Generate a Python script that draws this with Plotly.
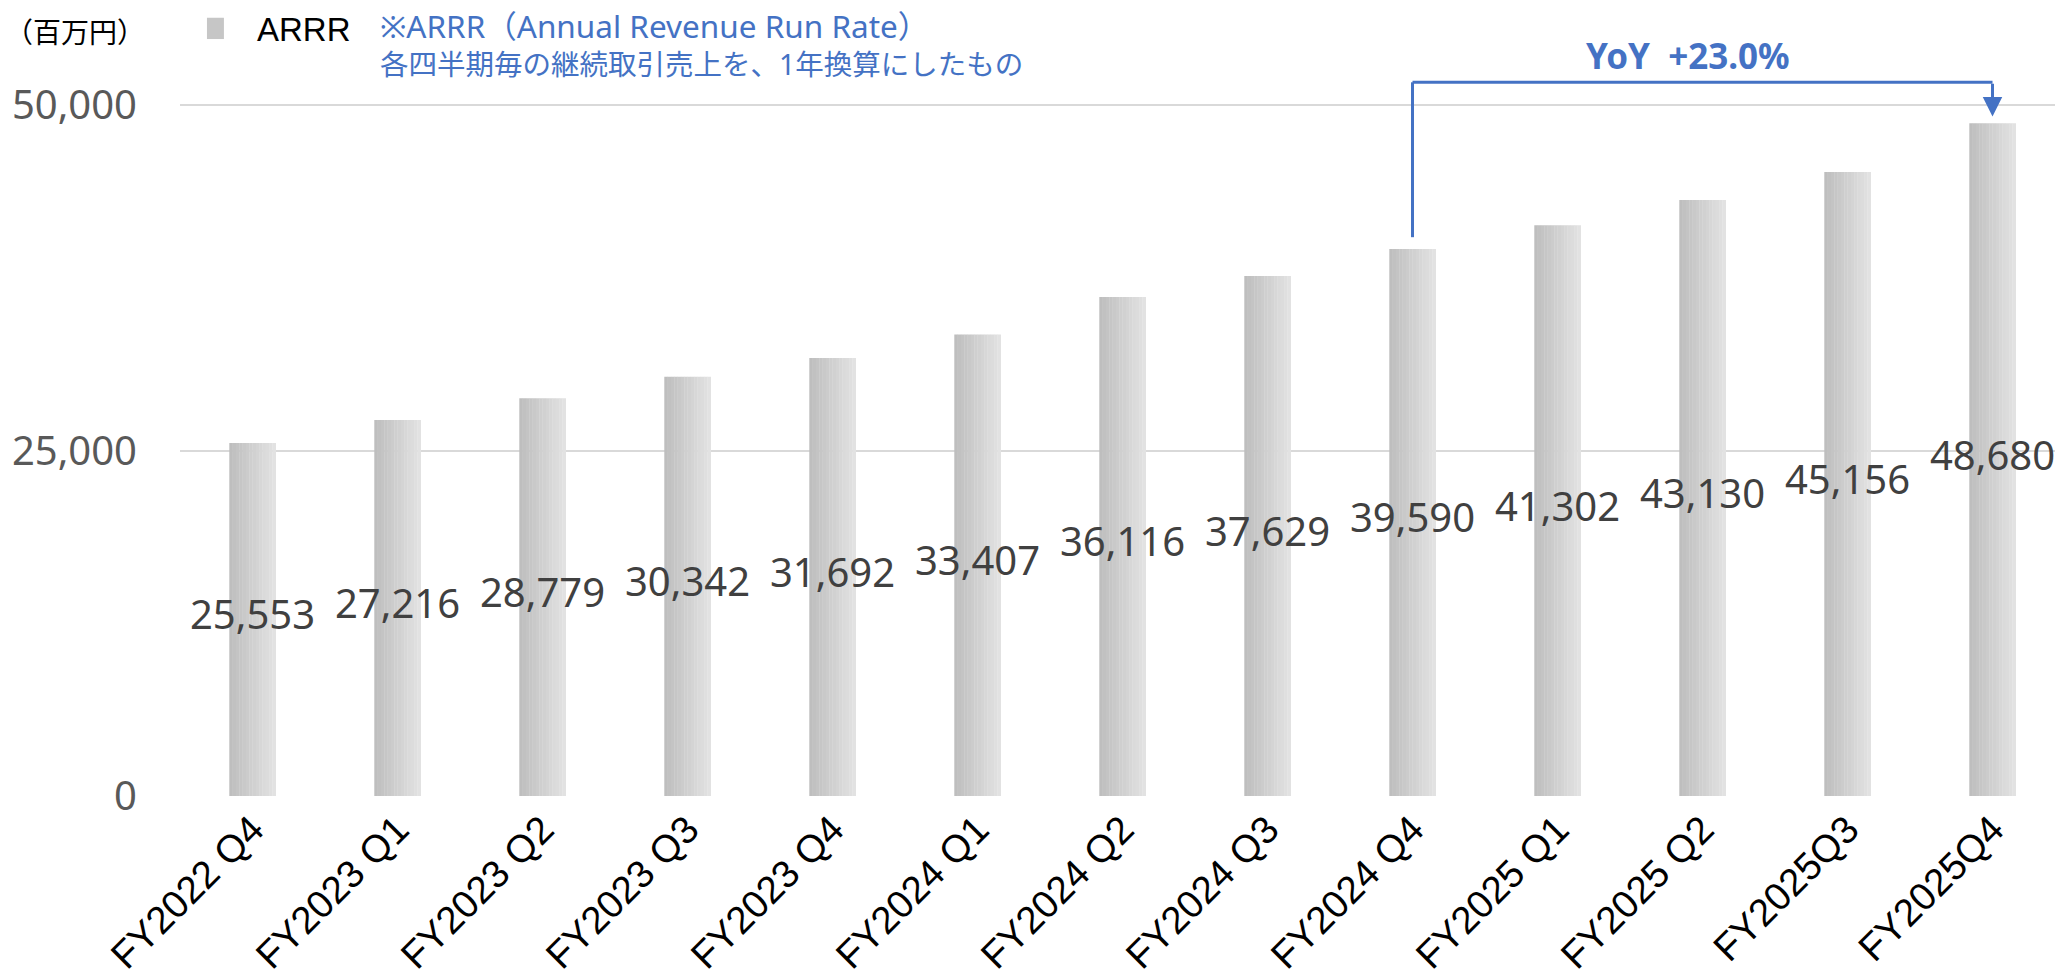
import plotly.graph_objects as go

# 四半期ラベルとARRR（百万円）
quarters = ["FY2022 Q4", "FY2023 Q1", "FY2023 Q2", "FY2023 Q3", "FY2023 Q4",
            "FY2024 Q1", "FY2024 Q2", "FY2024 Q3", "FY2024 Q4",
            "FY2025 Q1", "FY2025 Q2", "FY2025Q3", "FY2025Q4"]
arrr = [25553, 27216, 28779, 30342, 31692, 33407, 36116, 37629, 39590,
        41302, 43130, 45156, 48680]
y_ticks = [0, 25000, 50000]

BLUE = "#4472C4"
NUM_FONT = "Noto Sans"
JP_FONT = "Noto Sans CJK JP"

fig = go.Figure()

# 棒のグラデーション（左が濃く右が薄い）を細い棒の重ね合わせで表現
n_slices = 14
bar_w = 0.32
c0, c1 = (190, 190, 190), (226, 226, 226)
for i in range(n_slices):
    t = i / (n_slices - 1)
    col = tuple(round(a + (b - a) * t) for a, b in zip(c0, c1))
    fig.add_trace(go.Bar(
        x=quarters, y=arrr,
        width=bar_w / n_slices + 0.002,
        offset=-bar_w / 2 + i * bar_w / n_slices,
        marker=dict(color="rgb(%d,%d,%d)" % col, line_width=0),
        showlegend=False, hoverinfo="skip",
    ))

# データラベル（棒の中央の高さ）
fig.add_trace(go.Scatter(
    x=quarters, y=[v / 2 for v in arrr],
    mode="text", text=[f"{v:,}" for v in arrr],
    textfont=dict(family=NUM_FONT, size=40, color="#404040"),
    showlegend=False, hoverinfo="skip",
))

# YoY の括弧線と矢印
i0, i1 = 8, 12
yoy = arrr[i1] / arrr[i0] - 1
top = max(arrr) * 1.061
fig.add_shape(type="line", x0=i0, x1=i0, y0=arrr[i0] + 850, y1=top,
              xref="x", yref="y", line=dict(color=BLUE, width=3))
fig.add_shape(type="line", x0=i0, x1=i1, y0=top, y1=top,
              xref="x", yref="y", line=dict(color=BLUE, width=3))
fig.add_annotation(x=i1, y=arrr[i1] + 500, ax=i1, ay=top, xref="x", yref="y",
                   axref="x", ayref="y", text="", showarrow=True,
                   arrowhead=2, arrowsize=1.3, arrowwidth=3, arrowcolor=BLUE)
fig.add_annotation(x=(i0 + i1) / 2 - 0.1, y=top * 1.037, xref="x", yref="y",
                   text=f"<b>YoY  +{yoy * 100:.1f}%</b>", showarrow=False,
                   font=dict(family=NUM_FONT, size=35, color=BLUE))

# 単位・凡例・注記
fig.add_annotation(x=-0.094, y=1.006, xref="paper", yref="paper",
                   xanchor="left", yanchor="middle", showarrow=False,
                   text="（百万円）", font=dict(family=JP_FONT, size=28, color="#000000"))
fig.add_shape(type="rect", xref="paper", yref="paper",
              x0=0.0143, x1=0.0233, y0=0.996, y1=1.024,
              fillcolor="#c6c6c6", line_width=0)
fig.add_annotation(x=0.040, y=1.009, xref="paper", yref="paper",
                   xanchor="left", yanchor="middle", showarrow=False,
                   text="ARRR", font=dict(family="Liberation Sans", size=33, color="#000000"))
fig.add_annotation(x=0.105, y=0.9895, xref="paper", yref="paper",
                   xanchor="left", yanchor="middle", align="left", showarrow=False,
                   text=("<span style='font-size:31.5px'>※ARRR（Annual Revenue Run Rate）</span>"
                         "<br>各四半期毎の継続取引売上を、1年換算にしたもの"),
                   font=dict(family="Noto Sans, Noto Sans CJK JP", size=28.5, color=BLUE))

# ページ本体の8pxの余白を差し引いてサイズと余白を決める
fig.update_layout(
    width=2057, height=970,
    margin=dict(l=172, r=0, t=28, b=182),
    barmode="overlay",
    plot_bgcolor="white", paper_bgcolor="white",
    showlegend=False,
)
fig.update_xaxes(
    type="category", tickangle=-45, showgrid=False, showline=False,
    ticks="", ticklabelstandoff=2,
    tickfont=dict(family="Liberation Sans", size=38.5, color="#000000"),
    range=[-0.5, len(quarters) - 0.5],
)
fig.update_yaxes(
    range=[0, 55000], tickvals=y_ticks, tickformat=",",
    showgrid=True, gridcolor="#d9d9d9", gridwidth=2, zeroline=False,
    ticks="", ticklabelstandoff=42,
    tickfont=dict(family=NUM_FONT, size=40, color="#595959"),
)

fig.write_html("out.html")
